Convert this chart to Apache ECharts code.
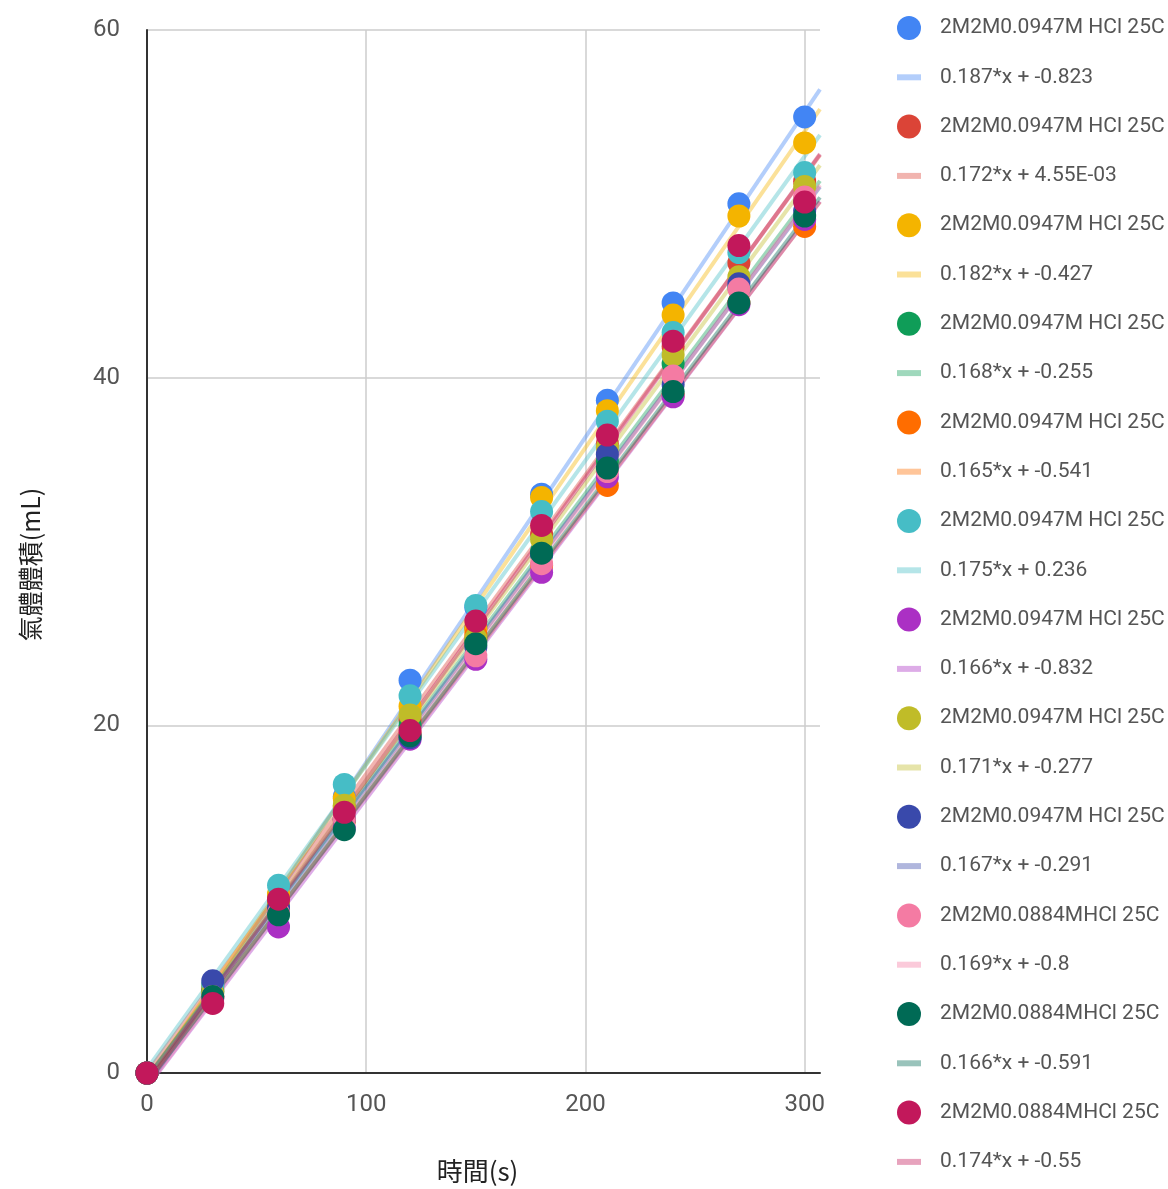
<!DOCTYPE html>
<html>
<head>
<meta charset="utf-8">
<script src="https://cdn.jsdelivr.net/npm/echarts@6/dist/echarts.min.js"></script>
<style>
html,body{margin:0;padding:0;background:#fff;}
#chart{width:1168px;height:1189px;}
</style>
</head>
<body>
<div id="chart"></div>
<script>
// ---- data ----
const times = [0, 30, 60, 90, 120, 150, 180, 210, 240, 270, 300];
const xTicks = [0, 100, 200, 300];
const yTicks = [0, 20, 40, 60];

const seriesLabels = [
  "2M2M0.0947M HCl 25C", "2M2M0.0947M HCl 25C", "2M2M0.0947M HCl 25C",
  "2M2M0.0947M HCl 25C", "2M2M0.0947M HCl 25C", "2M2M0.0947M HCl 25C",
  "2M2M0.0947M HCl 25C", "2M2M0.0947M HCl 25C", "2M2M0.0947M HCl 25C",
  "2M2M0.0884MHCl 25C", "2M2M0.0884MHCl 25C", "2M2M0.0884MHCl 25C"
];
const trendLabels = [
  "0.187*x + -0.823", "0.172*x + 4.55E-03", "0.182*x + -0.427",
  "0.168*x + -0.255", "0.165*x + -0.541", "0.175*x + 0.236",
  "0.166*x + -0.832", "0.171*x + -0.277", "0.167*x + -0.291",
  "0.169*x + -0.8", "0.166*x + -0.591", "0.174*x + -0.55"
];
const slopes = [0.187, 0.172, 0.182, 0.168, 0.165, 0.175, 0.166, 0.171, 0.167, 0.169, 0.166, 0.174];
const intercepts = [-0.823, 0.00455, -0.427, -0.255, -0.541, 0.236, -0.832, -0.277, -0.291, -0.8, -0.591, -0.55];

const vBlue     = [0, 5.0, 10.2, 15.9, 22.6, 26.8, 33.3, 38.7, 44.3, 50.0, 55.0];
const vRed      = [0, 4.8, 10.0, 15.3, 20.3, 25.6, 31.0, 36.2, 41.8, 46.6, 51.3];
const vYellow   = [0, 5.0, 10.3, 15.8, 21.1, 25.5, 33.1, 38.1, 43.6, 49.3, 53.5];
const vGreen    = [0, 4.7, 9.6, 14.6, 20.0, 24.9, 30.0, 35.2, 40.8, 45.2, 50.2];
const vOrange   = [0, 4.4, 9.4, 14.5, 19.5, 25.2, 29.2, 33.8, 39.0, 44.3, 48.7];
const vTeal     = [0, 5.1, 10.8, 16.6, 21.7, 26.9, 32.3, 37.5, 42.6, 47.2, 51.8];
const vPurple   = [0, 4.3, 8.4, 14.1, 19.2, 23.8, 28.8, 34.3, 38.9, 44.2, 49.1];
const vOlive    = [0, 4.6, 9.8, 15.4, 20.6, 25.0, 30.7, 36.0, 41.3, 45.8, 51.0];
const vIndigo   = [0, 5.3, 9.5, 14.6, 19.3, 24.5, 29.8, 35.6, 39.6, 45.4, 49.6];
const vPink     = [0, 4.4, 9.2, 14.6, 19.5, 24.0, 29.3, 34.6, 40.1, 45.1, 50.4];
const vDarkTeal = [0, 4.4, 9.1, 14.0, 19.4, 24.7, 29.9, 34.8, 39.2, 44.3, 49.3];
const vCrimson  = [0, 4.0, 10.0, 15.0, 19.7, 26.0, 31.5, 36.7, 42.1, 47.6, 50.1];
const allValues = [vBlue, vRed, vYellow, vGreen, vOrange, vTeal, vPurple, vOlive, vIndigo, vPink, vDarkTeal, vCrimson];

const colors = ["#4285F4", "#DB4437", "#F4B400", "#0F9D58", "#FF6D00", "#46BDC6",
                "#AB30C4", "#C0BC28", "#3949AB", "#F47BA3", "#006A55", "#C2185B"];

const X_MAX = 307;
// legend bar icon: bounding box 24x24, filled strip in the middle
const BAR_ICON = 'path://M0,0 M24,24 M0,9 L24,9 L24,15 L0,15 Z';

// ---- build ----
const series = [];
const legendData = [];
allValues.forEach((vals, i) => {
  const sName = seriesLabels[i] + "#" + i;
  series.push({
    name: trendLabels[i],
    type: 'line',
    data: [[0, intercepts[i]], [X_MAX, slopes[i] * X_MAX + intercepts[i]]],
    symbol: 'none',
    z: 1,
    silent: true,
    clip: true,
    lineStyle: { color: colors[i], width: 4, opacity: 0.4 },
    itemStyle: { color: colors[i], opacity: 0.4 }
  });
  series.push({
    name: sName,
    type: 'scatter',
    data: times.map((t, k) => [t, vals[k]]),
    symbolSize: 23,
    z: 2,
    itemStyle: { color: colors[i], opacity: 1 }
  });
  legendData.push({ name: sName, icon: 'circle' });
  legendData.push({ name: trendLabels[i], icon: BAR_ICON, itemStyle: { color: colors[i], opacity: 0.4 } });
});

const chart = echarts.init(document.getElementById('chart'));
chart.setOption({
  animation: false,
  backgroundColor: '#fff',
  textStyle: { fontFamily: 'Roboto, "Noto Sans CJK TC", sans-serif' },
  grid: { left: 147, right: 348, top: 30, bottom: 115, containLabel: false },
  legend: {
    orient: 'vertical',
    left: 897,
    top: 16,
    padding: 0,
    itemWidth: 24,
    itemHeight: 24,
    itemGap: 25.3,
    data: legendData,
    formatter: n => n.replace(/#\d+$/, ''),
    textStyle: { fontSize: 21, color: '#555', padding: [0, 0, 0, 14], fontFamily: 'Roboto, sans-serif' }
  },
  xAxis: {
    type: 'value',
    min: 0, max: X_MAX, interval: 100,
    name: '時間(s)',
    nameLocation: 'middle',
    nameGap: 85,
    nameTextStyle: { fontSize: 26, color: '#222', padding: [0, 12, 0, 0], fontFamily: '"Noto Sans CJK TC", Roboto, sans-serif' },
    axisLine: { show: true, lineStyle: { color: '#333', width: 2 } },
    axisTick: { show: false },
    axisLabel: {
      fontSize: 24, color: '#555', margin: 20,
      showMaxLabel: false,
      formatter: v => (xTicks.indexOf(v) >= 0 ? String(v) : '')
    },
    splitLine: { show: true, showMaxLine: false, lineStyle: { color: '#cccccc', width: 1.5 } }
  },
  yAxis: {
    type: 'value',
    min: 0, max: 60, interval: 20,
    name: '氣體體積(mL)',
    nameLocation: 'middle',
    nameGap: 104,
    nameTextStyle: { fontSize: 25, color: '#222', padding: [0, 26, 0, 0], fontFamily: '"Noto Sans CJK TC", Roboto, sans-serif' },
    axisLine: { show: true, lineStyle: { color: '#333', width: 2 } },
    axisTick: { show: false },
    axisLabel: {
      fontSize: 24, color: '#555', margin: 27,
      formatter: v => (yTicks.indexOf(v) >= 0 ? String(v) : '')
    },
    splitLine: { show: true, lineStyle: { color: '#cccccc', width: 1.5 } }
  },
  series: series
});
</script>
</body>
</html>
